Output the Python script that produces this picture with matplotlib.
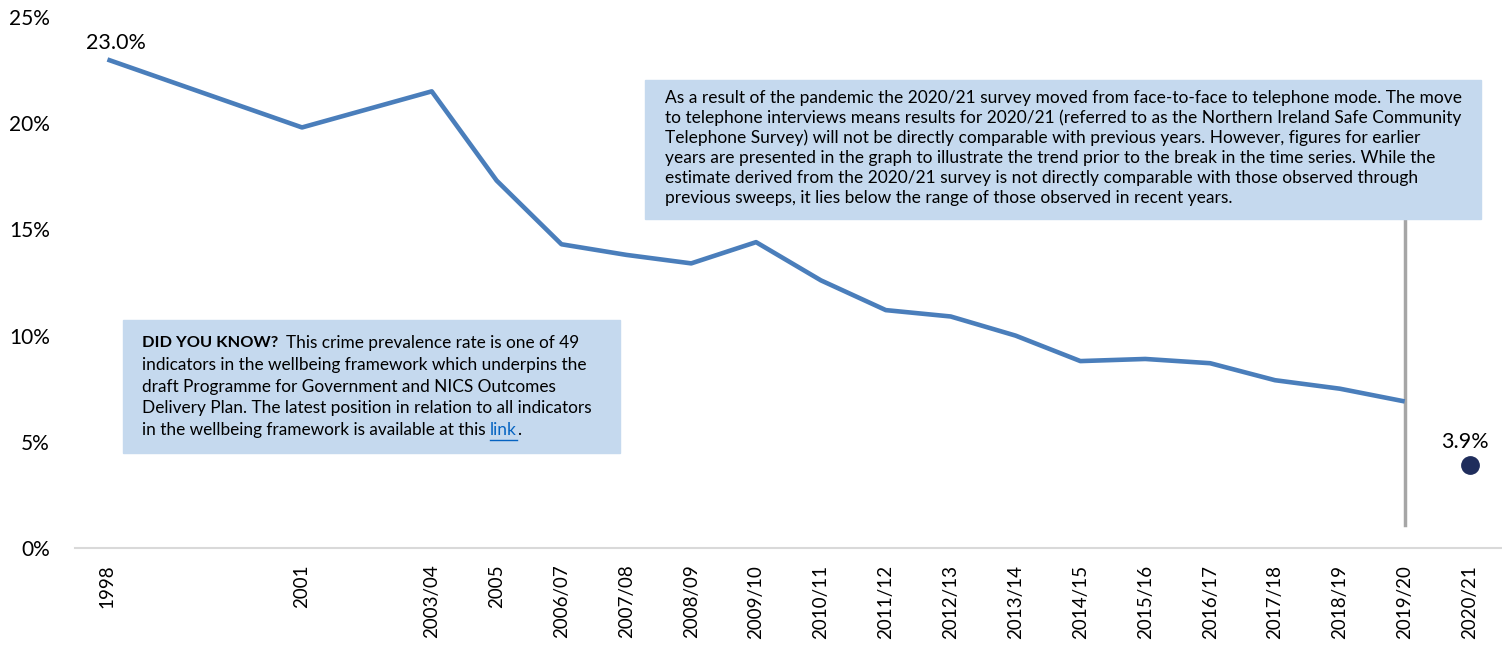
import matplotlib.pyplot as plt
from matplotlib.patches import Rectangle
from matplotlib.lines import Line2D

plt.rcParams['font.family'] = ['Lato', 'DejaVu Sans']

# survey years and where they sit on the (uneven) time axis
years = ["1998", "2001", "2003/04", "2005", "2006/07", "2007/08", "2008/09",
         "2009/10", "2010/11", "2011/12", "2012/13", "2013/14", "2014/15",
         "2015/16", "2016/17", "2017/18", "2018/19", "2019/20", "2020/21"]
year_pos = [0, 3, 5, 6, 7, 8, 9, 10, 11, 12, 13, 14, 15, 16, 17, 18, 19, 20, 21]

# victimisation rate (%), face-to-face survey up to 2019/20
rate = [23.0, 19.8, 21.5, 17.3, 14.3, 13.8, 13.4, 14.4, 12.6, 11.2, 10.9,
        10.0, 8.8, 8.9, 8.7, 7.9, 7.5, 6.9]
# telephone survey 2020/21
rate_2021 = 3.9

W, H = 1502, 648
fig = plt.figure(figsize=(W / 100, H / 100), dpi=100)
ax = fig.add_axes([75 / W, (H - 548) / H, (W - 75) / W, 531 / H])


def fx(x):
    return x / W


def fy(y):
    return 1 - y / H


ax.plot(year_pos[:-1], rate, color='#4a7ebb', lw=3.3, solid_capstyle='butt', zorder=3)
ax.plot(year_pos[-1], rate_2021, 'o', color='#1f2d5c', ms=12.5, zorder=4)

ax.annotate(f"{rate[0]:.1f}%", (year_pos[0], rate[0]), xytext=(6, 12),
            textcoords='offset points', ha='center', va='center', fontsize=15.5)
ax.annotate(f"{rate_2021:.1f}%", (year_pos[-1], rate_2021), xytext=(-3, 17),
            textcoords='offset points', ha='center', va='center', fontsize=15.5)

# break in the time series
ax.plot([year_pos[-2], year_pos[-2]], [1.1, 15.5], color='#a6a6a6', lw=2.5, zorder=2)

ax.set_xlim(-0.5, 21.5)
ax.set_ylim(0, 25)
ax.set_yticks([0, 5, 10, 15, 20, 25])
ax.set_yticklabels([f"{v}%" for v in [0, 5, 10, 15, 20, 25]], fontsize=15)
ax.set_xticks(year_pos)
ax.set_xticklabels(years, rotation=90, fontsize=13.5)
ax.tick_params(length=0, pad=12)
ax.tick_params(axis='y', pad=18)
for s in ['left', 'right', 'top']:
    ax.spines[s].set_visible(False)
ax.spines['bottom'].set_color('#d9d9d9')
ax.spines['bottom'].set_linewidth(1.5)
ax.patch.set_alpha(0)

box_col = '#c5d9ee'

# note about the change of survey mode
fig.patches.append(Rectangle((fx(645), fy(219)), fx(836), 139 / H,
                             transform=fig.transFigure, color=box_col, zorder=1))
note = ["As a result of the pandemic the 2020/21 survey moved from face-to-face to telephone mode. The move",
        "to telephone interviews means results for 2020/21 (referred to as the Northern Ireland Safe Community",
        "Telephone Survey) will not be directly comparable with previous years. However, figures for earlier",
        "years are presented in the graph to illustrate the trend prior to the break in the time series. While the",
        "estimate derived from the 2020/21 survey is not directly comparable with those observed through",
        "previous sweeps, it lies below the range of those observed in recent years."]
for i, line in enumerate(note):
    fig.text(fx(665), fy(98 + 20 * i), line, fontsize=12.5, va='center', ha='left', zorder=5)

# did you know box
fs = 12.4
fig.patches.append(Rectangle((fx(123), fy(453)), fx(497), 133 / H,
                             transform=fig.transFigure, color=box_col, zorder=1))
t_bold = fig.text(fx(142), fy(343), "DID YOU KNOW?", fontsize=11.8, weight='bold',
                  va='center', ha='left', zorder=5)
body = ["indicators in the wellbeing framework which underpins the",
        "draft Programme for Government and NICS Outcomes",
        "Delivery Plan. The latest position in relation to all indicators"]
for i, line in enumerate(body):
    fig.text(fx(142), fy(365 + 21.7 * i), line, fontsize=fs, va='center', ha='left', zorder=5)
t_last = fig.text(fx(142), fy(430), "in the wellbeing framework is available at this ",
                  fontsize=fs, va='center', ha='left', zorder=5)

# place the pieces that follow other text once their widths are known
fig.canvas.draw()
inv = fig.transFigure.inverted()
bb = t_bold.get_window_extent().transformed(inv)
fig.text(bb.x1 + fx(8), fy(343), "This crime prevalence rate is one of 49", fontsize=fs,
         va='center', ha='left', zorder=5)
bb = t_last.get_window_extent().transformed(inv)
t_link = fig.text(bb.x1, fy(430), "link", fontsize=fs, color='#0563c1', va='center', ha='left', zorder=5)
fig.canvas.draw()
bl = t_link.get_window_extent().transformed(inv)
fig.text(bl.x1, fy(430), ".", fontsize=fs, va='center', ha='left', zorder=5)
fig.lines.append(Line2D([bl.x0, bl.x1], [fy(440), fy(440)], transform=fig.transFigure,
                        color='#0563c1', lw=1, zorder=5))

fig.savefig('out.png', dpi=100)
